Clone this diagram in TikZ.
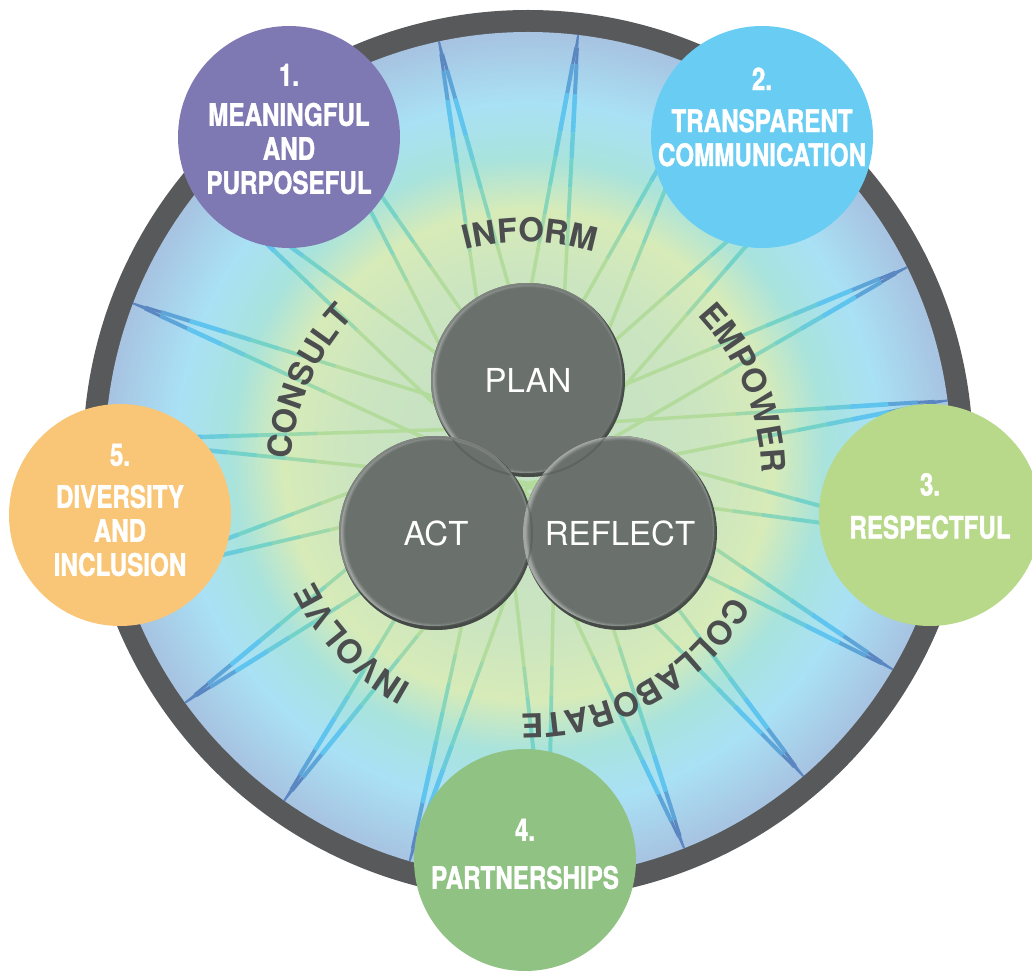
\documentclass[tikz,border=0pt]{standalone}
\usepackage{fontspec}
\setmainfont{TeX Gyre Heros}
\newfontfamily\ideafont[FakeStretch=0.78, FakeBold=1.2]{TeX Gyre Heros}
\usepackage{tikz}
\usetikzlibrary{positioning, calc}
\usetikzlibrary{decorations.text}

\definecolor{ringgrey}{HTML}{58595B}
\definecolor{discA}{HTML}{C3DFC6}
\definecolor{discB}{HTML}{CBE5C0}
\definecolor{discC}{HTML}{D7EBB8}
\definecolor{discD}{HTML}{A9E3DC}
\definecolor{discE}{HTML}{A9E1F5}
\definecolor{discF}{HTML}{A7C3E1}
\definecolor{raygreen}{HTML}{B3DB9C}
\definecolor{rayteal}{HTML}{74D3C8}
\definecolor{rayblue}{HTML}{5FC4EE}
\definecolor{raydark}{HTML}{5A86C2}
\definecolor{wordgrey}{HTML}{4B4D4F}
\definecolor{phasegrey}{HTML}{6A716C}
\definecolor{phaseshadow}{HTML}{454A46}
\definecolor{phaserim}{HTML}{A3A7A3}
\definecolor{ideapurple}{HTML}{7F79B3}
\definecolor{ideablue}{HTML}{69CDF3}
\definecolor{idealime}{HTML}{B8D98A}
\definecolor{ideagreen}{HTML}{8FC283}
\definecolor{ideaorange}{HTML}{F9C677}

\pgfdeclareradialshading{discshade}{\pgfpointorigin}{color(0bp)=(discA); color(10.5bp)=(discB); color(14.5bp)=(discC); color(17.5bp)=(discD); color(20.8bp)=(discE); color(25bp)=(discF); color(50bp)=(discF)}

\newcommand\wordstyle{\color{wordgrey}\bfseries\fontsize{33}{33}\selectfont}

\begin{document}
\begin{tikzpicture}[x=1pt, y=1pt, on grid,
	ray/.style={line width=#1, line cap=butt},
	wordarc/.style={decorate, decoration={text along path, text align=center, text={|\wordstyle|#1}}},
	phase/.style={circle, minimum size=194, inner sep=0, text=white, font=\fontsize{33}{36}\selectfont,
		path picture={
			\fill[phaseshadow] (path picture bounding box.center) circle (100);
			\fill[phaserim] ($(path picture bounding box.center)+(-2,3)$) circle (96);
			\foreach \rr/\op in {95/0.25, 94/0.35, 93/0.5, 92/0.7, 91/1}
				\fill[phasegrey, opacity=\op] ($(path picture bounding box.center)+(1,1)$) circle (\rr);
		}},
	phaseedge/.style={phaseshadow, opacity=0.35, line width=2},
	idea/.style={circle, minimum size=222, inner sep=0},
	ideatext/.style={text=white, align=center, font=\ideafont\bfseries\fontsize{31}{34}\selectfont}] 

	\useasboundingbox (0,0) rectangle (1032,970);
	\coordinate (hub) at (528,515);
	\coordinate (wordhub) at (526,492);

	\fill[ringgrey] (hub) circle (445);
	\shade[shading=discshade] (hub) circle (423);

	% star rays
	\foreach \k in {0,...,18}{
		\pgfmathsetmacro\ang{7.4+18.95*\k}
		\foreach \side in {-1,1}{
			\coordinate (foot) at ($(hub)+(\ang+90*\side:28)$);
			\coordinate (tip) at ($(hub)+(\ang:423)$);
			\foreach \fa/\fb/\rc/\rw in {0/0.5/raygreen/3.5, 0.5/0.57/raygreen!65!rayteal/3.6, 0.57/0.64/raygreen!30!rayteal/3.8, 0.64/0.71/rayteal/4, 0.71/0.77/rayteal!50!rayblue/4.4, 0.77/0.86/rayblue/4.6, 0.86/0.93/rayblue!50!raydark/4, 0.93/0.97/raydark/3, 0.97/1/raydark/1.8}
				\draw[ray=\rw, \rc] ($(foot)!\fa!(tip)$) -- ($(foot)!\fb!(tip)$);
		}
	}

	\path[wordarc=INFORM] ($(wordhub)+(139:236)$) arc[start angle=139, end angle=39, radius=236];
	\path[wordarc=EMPOWER] ($(wordhub)+(72.4:236)$) arc[start angle=72.4, end angle=-27.6, radius=236];
	\path[wordarc=COLLABORATE] ($(wordhub)+(-5.4:236)$) arc[start angle=-5.4, end angle=-115.4, radius=236];
	\path[wordarc=INVOLVE] ($(wordhub)+(-86.5:236)$) arc[start angle=-86.5, end angle=-186.5, radius=236];
	\path[wordarc=CONSULT] ($(wordhub)+(206.2:236)$) arc[start angle=206.2, end angle=106.2, radius=236];

	\node[phase] (plan) at (528,590) {PLAN};
	\node[phase] (act) [below left=153pt and 92pt of plan] {ACT};
	\node[phase] (reflect) [below right=153pt and 92pt of plan] {REFLECT};
	\draw[phaseedge] (plan.center) circle (96) (act.center) circle (96);

	\node[idea, fill=ideapurple, label={[ideatext, yshift=8]center:{1.\\[6pt]MEANINGFUL\\AND\\PURPOSEFUL}}] (meaningful) at (289,833) {};
	\node[idea, fill=ideablue, label={[ideatext, yshift=20]center:{2.\\[8pt]TRANSPARENT\\COMMUNICATION}}] (transparent) at (762,833) {};
	\node[idea, fill=idealime, label={[ideatext, yshift=9]center:{3.\\[9pt]RESPECTFUL}}] (respectful) at (930,455) {};
	\node[idea, fill=ideagreen, label={[ideatext, yshift=6]center:{4.\\[14pt]PARTNERSHIPS}}] (partnerships) at (525,110) {};
	\node[idea, fill=ideaorange, label={[ideatext, yshift=5]center:{5.\\[8pt]DIVERSITY\\AND\\INCLUSION}}] (diversity) at (120,455) {};
\end{tikzpicture}
\end{document}
